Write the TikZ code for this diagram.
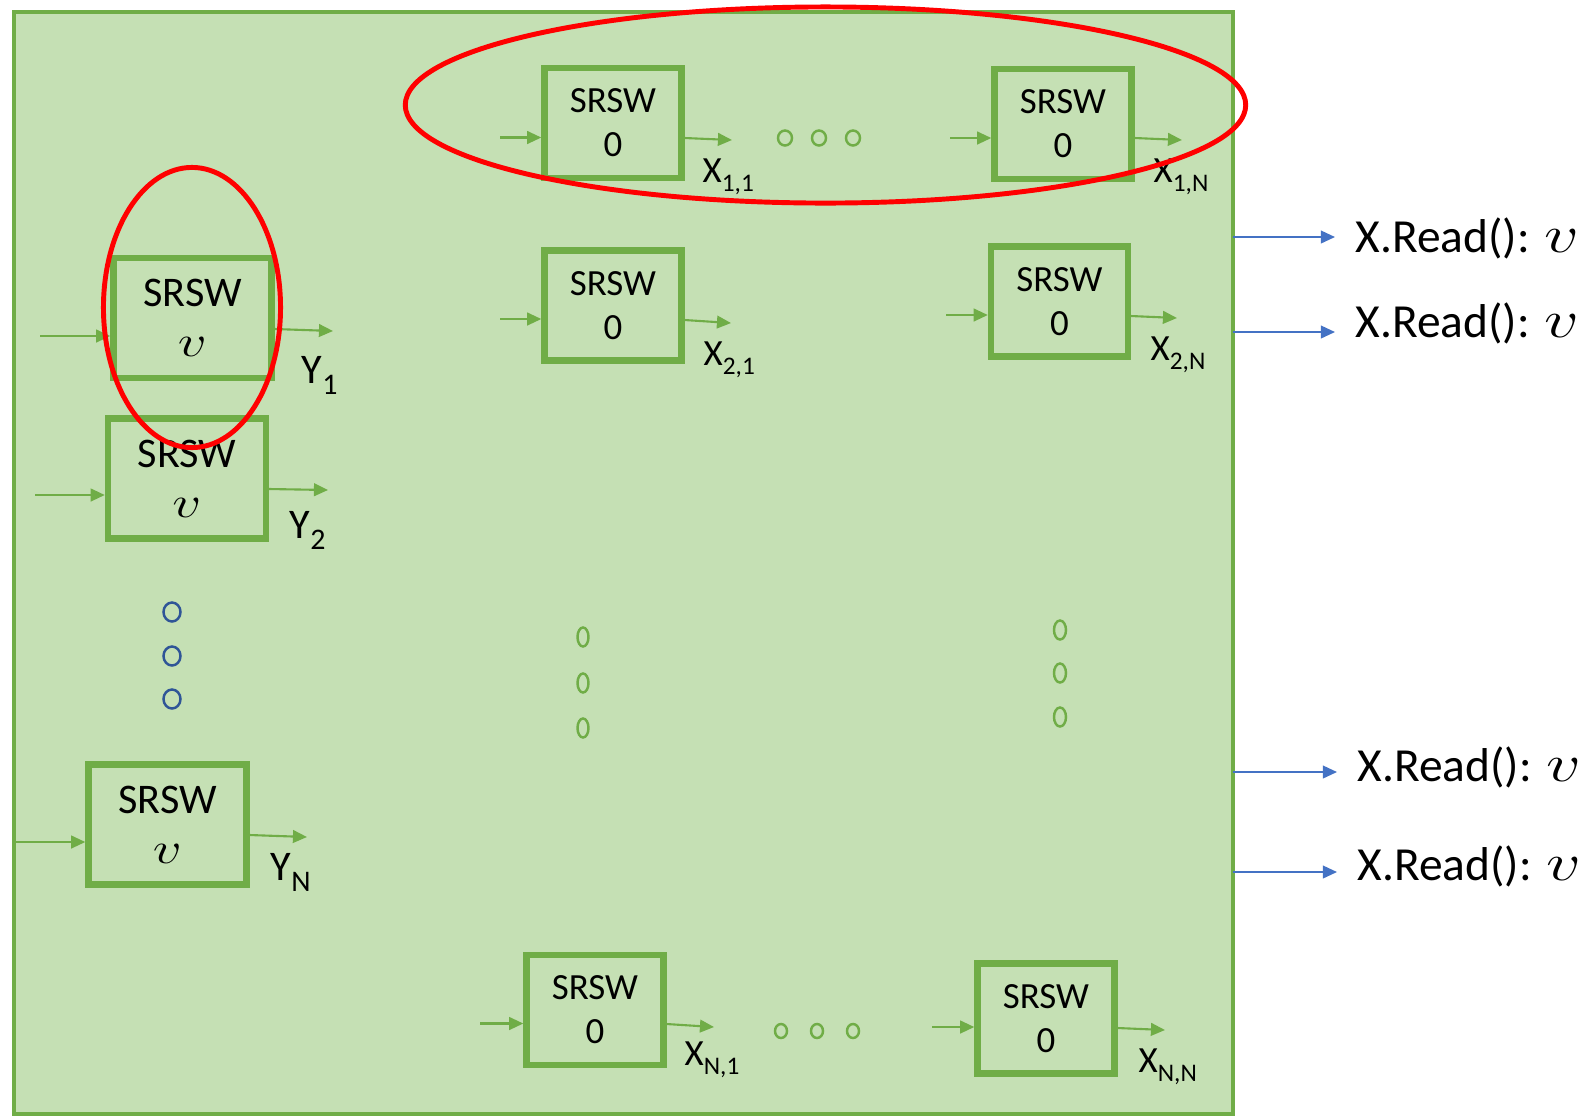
\documentclass[tikz,border=0pt]{standalone}
\usepackage{fontspec}
\setmainfont{Carlito}
\usetikzlibrary{arrows.meta}
\definecolor{gfill}{HTML}{C5E0B4}
\definecolor{gline}{HTML}{70AD47}
\definecolor{bline}{HTML}{4472C4}
\definecolor{bdot}{HTML}{2F5597}
\newcommand{\ysub}[1]{\raisebox{-3.4pt}{\fontsize{8.5}{8.5}\selectfont #1}}
\newcommand{\xsub}[1]{\raisebox{-2.8pt}{\fontsize{7.2}{7.2}\selectfont #1}}
\newcommand{\vv}{\scalebox{1.35}[1.05]{$v$}}
\begin{document}
\begin{tikzpicture}[x=0.01cm,y=-0.01cm,
 ybox/.style={draw=gline, line width=1.8pt, minimum width=1.58cm, minimum height=1.2cm, inner sep=0pt, align=center, font=\fontsize{12}{14.2}\selectfont},
 xbox/.style={draw=gline, line width=1.8pt, minimum width=1.37cm, minimum height=1.1cm, inner sep=0pt, align=center, font=\fontsize{10.5}{12.5}\selectfont},
 garrow/.style={draw=gline, line width=0.6pt, -{Triangle[length=4pt,width=3.6pt]}},
 barrow/.style={draw=bline, line width=0.5pt, -{Triangle[length=4pt,width=3.6pt]}},
 ylbl/.style={anchor=base west, inner sep=0pt, font=\fontsize{12}{12}\selectfont},
 xlbl/.style={anchor=base west, inner sep=0pt, font=\fontsize{10.5}{10.5}\selectfont},
 rlbl/.style={anchor=base west, inner xsep=0.2cm, inner ysep=0pt, font=\fontsize{13.5}{13.5}\selectfont},
 gdot/.style={draw=gline, line width=0.7pt},
 bdotst/.style={draw=bdot, line width=0.7pt},
 ring/.style={draw=red, line width=1.4pt}]

\useasboundingbox (0,0) rectangle (1587,1117);
\node[draw=gline, fill=gfill, line width=1.2pt, minimum width=12.183cm, minimum height=11.015cm, inner sep=0pt] (frame) at (623.85,563.25) {};

% Y column
\node[ybox] (y1) at (192.5,318) {SRSW\\\vv};
\node[ybox] (y2) at (187,478.5) {SRSW\\\vv};
\node[ybox] (yn) at (167.5,824.5) {SRSW\\\vv};

% X boxes
\node[xbox] (x11) at (613,123) {SRSW\\0};
\node[xbox] (x1n) at (1063,124) {SRSW\\0};
\node[xbox] (x21) at (613,305.5) {SRSW\\0};
\node[xbox] (x2n) at (1059.5,301.5) {SRSW\\0};
\node[xbox] (xn1) at (595,1010) {SRSW\\0};
\node[xbox] (xnn) at (1046,1018.5) {SRSW\\0};

% input coordinates
\coordinate (iy1) at (40,336);
\coordinate (iy2) at (35,495);
\coordinate (iyn) at (14,842);
\coordinate (ix11) at (500,137.5);
\coordinate (ix1n) at (950,138);
\coordinate (ix21) at (500,319);
\coordinate (ix2n) at (946,315);
\coordinate (ixn1) at (480,1023.5);
\coordinate (ixnn) at (932,1027);
% output coordinates
\coordinate (oy1) at (333,331);
\coordinate (oy2) at (328,490);
\coordinate (oyn) at (307,837);
\coordinate (ox11) at (732,140);
\coordinate (ox1n) at (1182,140);
\coordinate (ox21) at (731,323);
\coordinate (ox2n) at (1177,318);
\coordinate (oxn1) at (714,1027);
\coordinate (oxnn) at (1165,1030);

\draw[garrow] (iy1) -- (iy1 -| y1.west);
\draw[garrow] (iy2) -- (iy2 -| y2.west);
\draw[garrow] (iyn) -- (iyn -| yn.west);
\draw[garrow] (ix11) -- (ix11 -| x11.west);
\draw[garrow] (ix1n) -- (ix1n -| x1n.west);
\draw[garrow] (ix21) -- (ix21 -| x21.west);
\draw[garrow] (ix2n) -- (ix2n -| x2n.west);
\draw[garrow] (ixn1) -- (ixn1 -| xn1.west);
\draw[garrow] (ixnn) -- (ixnn -| xnn.west);

\draw[garrow] ([yshift=-0.11cm]y1.east) -- (oy1);
\draw[garrow] ([yshift=-0.105cm]y2.east) -- (oy2);
\draw[garrow] ([yshift=-0.105cm]yn.east) -- (oyn);
\draw[garrow] ([yshift=-0.15cm]x11.east) -- (ox11);
\draw[garrow] ([yshift=-0.14cm]x1n.east) -- (ox1n);
\draw[garrow] ([yshift=-0.145cm]x21.east) -- (ox21);
\draw[garrow] ([yshift=-0.145cm]x2n.east) -- (ox2n);
\draw[garrow] ([yshift=-0.14cm]xn1.east) -- (oxn1);
\draw[garrow] ([yshift=-0.095cm]xnn.east) -- (oxnn);

% labels
\node[ylbl] (ly1) at (301,383) {Y\ysub{1}};
\node[ylbl] (ly2) at (289,538) {Y\ysub{2}};
\node[ylbl] (lyn) at (270,880) {Y\ysub{N}};
\node[xlbl] (lx11) at (702,182) {X\xsub{1,1}};
\node[xlbl] (lx1n) at (1153,182) {X\xsub{1,N}};
\node[xlbl] (lx21) at (703,365) {X\xsub{2,1}};
\node[xlbl] (lx2n) at (1150,360) {X\xsub{2,N}};
\node[xlbl] (lxn1) at (684,1065) {X\xsub{N,1}};
\node[xlbl] (lxnn) at (1138,1072) {X\xsub{N,N}};

% dots
\foreach \xx in {785,819,853} \draw[gdot] (\xx,138) ellipse [x radius=0.07cm, y radius=0.075cm];
\foreach \xx in {781,817,853} \draw[gdot] (\xx,1031) ellipse [x radius=0.06cm, y radius=0.07cm];
\foreach \yy in {637,683,728} \draw[gdot] (583,\yy) ellipse [x radius=0.055cm, y radius=0.095cm];
\foreach \yy in {630,673,717} \draw[gdot] (1060,\yy) ellipse [x radius=0.06cm, y radius=0.095cm];
\foreach \yy in {612,656,699} \draw[bdotst] (172,\yy) ellipse [x radius=0.085cm, y radius=0.095cm];

% read results
\coordinate (e1) at (1233,237);
\coordinate (e2) at (1233,332);
\coordinate (e3) at (1233,772);
\coordinate (e4) at (1233,872);
\node[rlbl] (r1) at (1335,252) {X.Read(): \vv};
\node[rlbl] (r2) at (1335,337) {X.Read(): \vv};
\node[rlbl] (r3) at (1337,781) {X.Read(): \vv};
\node[rlbl] (r4) at (1337,880) {X.Read(): \vv};
\draw[barrow] (e1) -- (e1 -| r1.west);
\draw[barrow] (e2) -- (e2 -| r2.west);
\draw[barrow] (e3) -- (e3 -| r3.west);
\draw[barrow] (e4) -- (e4 -| r4.west);

% red rings
\draw[ring] (825.5,105) ellipse [x radius=4.2cm, y radius=0.98cm];
\draw[ring] (192,307.5) ellipse [x radius=0.885cm, y radius=1.4cm];
\end{tikzpicture}
\end{document}
